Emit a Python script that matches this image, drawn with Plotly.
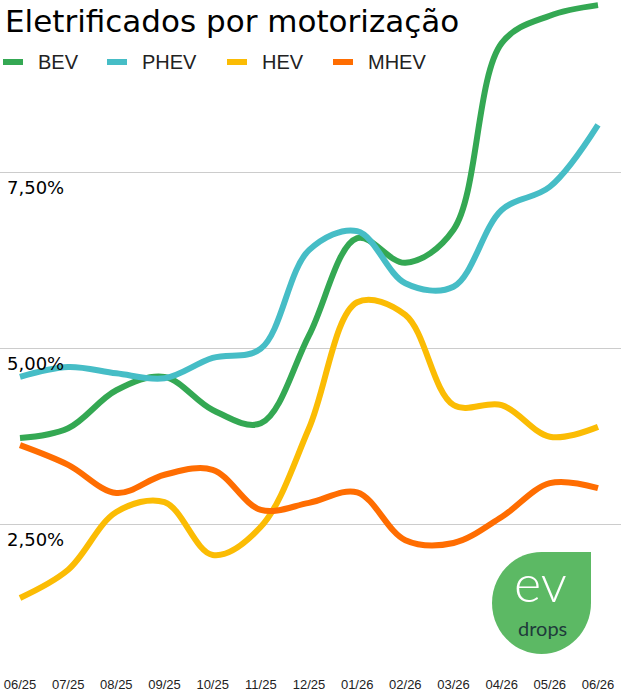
import plotly.graph_objects as go

months = ["06/25", "07/25", "08/25", "09/25", "10/25", "11/25", "12/25",
          "01/26", "02/26", "03/26", "04/26", "05/26", "06/26"]
bev = [3.72, 3.86, 4.40, 4.59, 4.12, 3.93, 5.18, 6.56, 6.21, 6.68, 9.33, 9.72, 9.87]
phev = [4.59, 4.73, 4.64, 4.57, 4.86, 4.99, 6.39, 6.66, 5.92, 5.87, 6.96, 7.29, 8.17]
hev = [1.45, 1.85, 2.67, 2.81, 2.06, 2.46, 3.86, 5.65, 5.47, 4.19, 4.19, 3.74, 3.88]
mhev = [3.62, 3.34, 2.94, 3.20, 3.27, 2.70, 2.80, 2.95, 2.27, 2.23, 2.60, 3.08, 3.01]
series_names = ["BEV", "PHEV", "HEV", "MHEV"]
colors = ["#34a853", "#46bdc6", "#fbbc04", "#ff6d01"]
ytick_vals = [2.5, 5.0, 7.5]
ytick_text = ["2,50%", "5,00%", "7,50%"]
title_text = "Eletrificados por motorização"

W, H = 621, 693
ML, MR, MT, MB = 0, 0, 0, 23
PW, PH = W - ML - MR, H - MT - MB


def px(x):
    return (x - ML) / PW


def py(y):
    return (H - MB - y) / PH


fig = go.Figure()
x_idx = list(range(len(months)))
for name, vals, col in zip(series_names, [bev, phev, hev, mhev], colors):
    fig.add_trace(go.Scatter(x=x_idx, y=vals, mode="lines", name=name,
                             line=dict(color=col, width=6, shape="spline", smoothing=1),
                             showlegend=False, hoverinfo="skip"))

annotations = []
shapes = []

# title
annotations.append(dict(text=title_text, x=px(3), y=py(0), xref="paper", yref="paper",
                        xanchor="left", yanchor="top", yshift=-1, showarrow=False,
                        font=dict(family="DejaVu Sans", size=31, color="#000000")))

# legend
sw_x = [3, 107, 227, 333]
for name, col, sx in zip(series_names, colors, sw_x):
    shapes.append(dict(type="line", xref="paper", yref="paper",
                       x0=px(sx), x1=px(sx + 20), y0=py(62), y1=py(62),
                       line=dict(color=col, width=6)))
    annotations.append(dict(text=name, x=px(sx + 33), y=py(62), xref="paper", yref="paper",
                            xanchor="left", yanchor="middle", showarrow=False,
                            font=dict(family="Liberation Sans, Arial", size=20, color="#222222")))

# y labels below gridlines
for v, t in zip(ytick_vals, ytick_text):
    annotations.append(dict(text=t, x=px(5), y=v, xref="paper", yref="y",
                            xanchor="left", yanchor="top", yshift=-3, showarrow=False,
                            font=dict(family="DejaVu Sans", size=18, color="#000000")))

# logo
L, R, T, B = 492, 591, 552, 654
cx, cy = (L + R) / 2, (T + B) / 2
rx, ry = (R - L) / 2, (B - T) / 2
k = 0.5523


def P(x, y):
    return f"{px(x):.5f},{py(y):.5f}"


path = (f"M {P(R, T)} L {P(R, cy)} "
        f"C {P(R, cy + k * ry)} {P(cx + k * rx, B)} {P(cx, B)} "
        f"C {P(cx - k * rx, B)} {P(L, cy + k * ry)} {P(L, cy)} "
        f"C {P(L, cy - k * ry)} {P(cx - k * rx, T)} {P(cx, T)} Z")
shapes.append(dict(type="path", path=path, xref="paper", yref="paper",
                   fillcolor="#5cb964", line=dict(width=0), layer="above"))
annotations.append(dict(text="ev", x=px(540), y=py(614), xref="paper", yref="paper",
                        xanchor="center", yanchor="bottom", borderpad=0, showarrow=False,
                        font=dict(family="Lato", size=52, color="#ffffff", weight=300)))
annotations.append(dict(text="drops", x=px(542), y=py(615), xref="paper", yref="paper",
                        xanchor="center", yanchor="top", borderpad=0, showarrow=False,
                        font=dict(family="Lato", size=20, color="#1f3b3b")))

fig.update_layout(
    width=W, height=H,
    margin=dict(l=ML, r=MR, t=MT, b=MB),
    paper_bgcolor="#ffffff", plot_bgcolor="#ffffff",
    xaxis=dict(range=[-20 / 48.17, 12 + 23 / 48.17], tickmode="array", tickvals=x_idx,
               ticktext=months, showgrid=False, zeroline=False, showline=False,
               ticks="", ticklabelstandoff=5,
               tickfont=dict(family="Liberation Sans, Arial", size=13, color="#222222")),
    yaxis=dict(range=[30 / 70.4, 700 / 70.4], tickmode="array", tickvals=ytick_vals,
               showticklabels=False, showgrid=True, gridcolor="#cccccc", gridwidth=1,
               zeroline=False, showline=False, ticks=""),
    annotations=annotations, shapes=shapes,
)

fig.write_html("out.html")
